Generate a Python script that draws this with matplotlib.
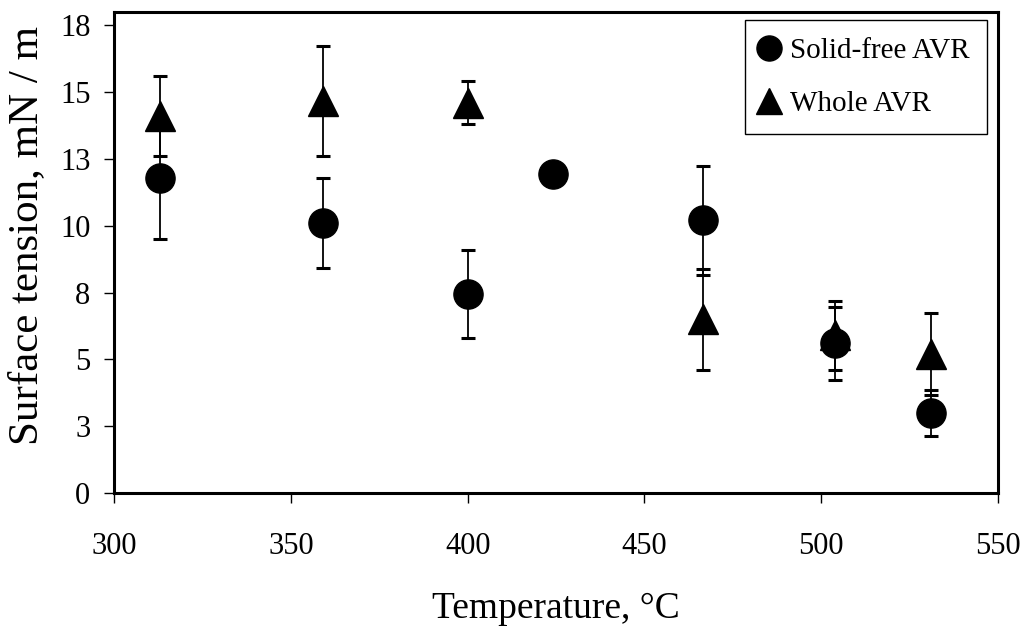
import numpy as np
import matplotlib
matplotlib.use("Agg")
import matplotlib.pyplot as plt
from matplotlib.ticker import FuncFormatter

plt.rcParams['font.family'] = ['Liberation Serif', 'DejaVu Serif']

# Surface tension measurements (mN/m) with error bars
temp_solid = [313, 359, 400, 424, 466.5, 504, 531]
st_solid = [11.8, 10.1, 7.45, 11.95, 10.2, 5.6, 3.0]
err_solid = [2.28, 1.68, 1.64, np.nan, 2.05, 1.37, 0.87]

temp_whole = [313, 359, 400, 466.5, 504, 531]
st_whole = [14.1, 14.67, 14.61, 6.5, 5.9, 5.2]
err_whole = [1.5, 2.05, 0.79, 1.9, 1.28, 1.55]

x_ticks = [300, 350, 400, 450, 500, 550]
y_ticks = np.arange(0, 18, 2.5)

fig = plt.figure(figsize=(10.3, 6.3), dpi=100)
ax = fig.add_axes([0.1107, 0.2175, 0.8583, 0.7635])

# error bars
ax.errorbar(temp_whole, st_whole, yerr=err_whole, fmt='none', ecolor='black',
            elinewidth=1.3, capsize=5, capthick=2.2, zorder=2)
ax.errorbar(temp_solid, st_solid, yerr=err_solid, fmt='none', ecolor='black',
            elinewidth=1.3, capsize=5, capthick=2.2, zorder=2)

# markers
ax.plot(temp_whole, st_whole, linestyle='none', marker='^', markersize=21,
        color='black', label='Whole AVR', zorder=3)
ax.plot(temp_solid, st_solid, linestyle='none', marker='o', markersize=21,
        color='black', label='Solid-free AVR', zorder=4)

ax.set_xlim(300, 550)
ax.set_ylim(0, 18)
ax.set_xticks(x_ticks)
ax.set_yticks(y_ticks)
ax.yaxis.set_major_formatter(FuncFormatter(lambda v, p: f"{int(np.floor(v + 0.5))}"))

for s in ax.spines.values():
    s.set_linewidth(2.2)
    s.set_color('black')

ax.tick_params(axis='both', direction='out', length=7, width=1, labelsize=22,
               colors='black')
ax.tick_params(axis='x', pad=21)
ax.tick_params(axis='y', pad=10)

ax.set_xlabel('Temperature, °C', fontsize=27, labelpad=22)
ax.set_ylabel('Surface tension, mN / m', fontsize=31)
ax.yaxis.set_label_coords(-0.077, 0.535)

handles, labels = ax.get_legend_handles_labels()
leg = ax.legend(handles[::-1], labels[::-1], loc='upper right',
                bbox_to_anchor=(0.988, 0.983), fontsize=21, frameon=True,
                fancybox=False, edgecolor='black', framealpha=1,
                handlelength=0.45, handletextpad=0.5, borderpad=0.6,
                labelspacing=0.9, markerscale=0.86, borderaxespad=0)
leg.get_frame().set_linewidth(1.0)

fig.savefig('out.png', dpi=100)
